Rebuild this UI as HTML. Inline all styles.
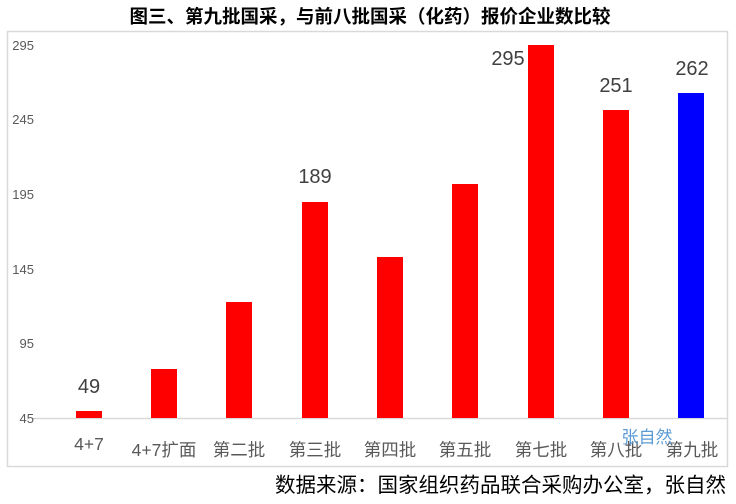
<!DOCTYPE html>
<html><head><meta charset="utf-8"><style>
body{margin:0;width:736px;height:499px;background:#fff;overflow:hidden;font-family:"Liberation Sans","Noto Sans CJK SC",sans-serif;}
</style></head><body>
<svg width="736" height="499" xmlns="http://www.w3.org/2000/svg" font-family="Liberation Sans, Noto Sans CJK SC, sans-serif">
<text x="370" y="23" text-anchor="middle" font-size="18.5" font-weight="bold" fill="#000">图三、第九批国采，与前八批国采（化药）报价企业数比较</text>
<rect x="7.5" y="31.5" width="720" height="435" fill="none" stroke="#d9d9d9" stroke-width="1.5"/>
<line x1="36" y1="418.5" x2="727" y2="418.5" stroke="#d9d9d9" stroke-width="1.5"/>
<g stroke="#bfbfbf"><line x1="32" y1="418.5" x2="36" y2="418.5"/></g>
<g font-size="13" fill="#595959" text-anchor="end">
<text x="34" y="50">295</text><text x="34" y="124">245</text><text x="34" y="199">195</text>
<text x="34" y="274">145</text><text x="34" y="348">95</text><text x="34" y="423">45</text></g>
<g fill="#ff0000">
<rect x="76" y="411" width="26" height="7"/>
<rect x="151" y="369" width="26" height="49"/>
<rect x="226" y="302" width="26" height="116"/>
<rect x="302" y="202" width="26" height="216"/>
<rect x="377" y="257" width="26" height="161"/>
<rect x="452" y="184" width="26" height="234"/>
<rect x="528" y="45" width="26" height="373"/>
<rect x="603" y="110" width="26" height="308"/>
</g>
<rect x="678" y="93" width="26" height="325" fill="#0000ff"/>
<g font-size="20" fill="#404040" text-anchor="middle">
<text x="89" y="393">49</text><text x="315" y="183">189</text><text x="508" y="65">295</text>
<text x="616" y="92">251</text><text x="692" y="75">262</text></g>
<g font-size="17.5" fill="#595959" text-anchor="middle">
<text x="89" y="450">4+7</text><text x="164" y="456">4+7扩面</text><text x="239" y="456">第二批</text>
<text x="315" y="456">第三批</text><text x="390" y="456">第四批</text><text x="465" y="456">第五批</text>
<text x="541" y="456">第七批</text><text x="616" y="456">第八批</text><text x="692" y="456">第九批</text></g>
<text x="647" y="443" font-size="17" fill="#5b9bd5" text-anchor="middle">张自然</text>
<text x="726" y="492" font-size="20.5" fill="#000" text-anchor="end">数据来源：国家组织药品联合采购办公室，张自然</text>
</svg>
</body></html>
